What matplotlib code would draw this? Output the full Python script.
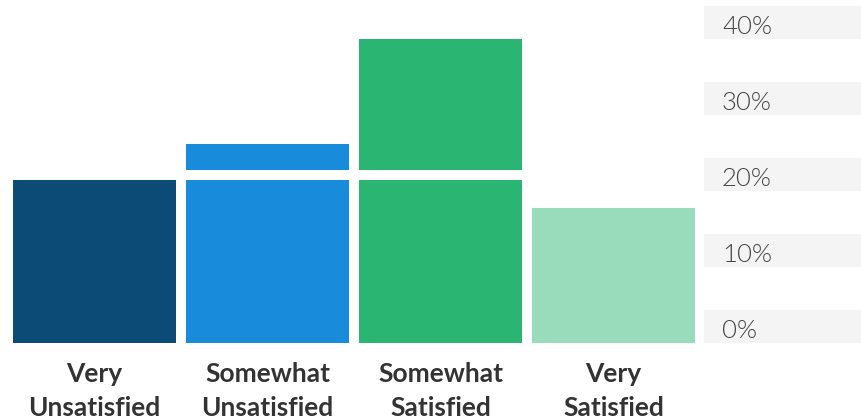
import matplotlib
matplotlib.use("Agg")
import matplotlib.pyplot as plt
from matplotlib.patches import Rectangle
from matplotlib.transforms import blended_transform_factory

# Survey results (% of respondents)
categories = ["Very\nUnsatisfied", "Somewhat\nUnsatisfied", "Somewhat\nSatisfied", "Very\nSatisfied"]
values = [21.45, 26.2, 40.0, 17.75]
colors = ["#0b4b75", "#188cdb", "#2bb572", "#98dcbc"]
tick_values = [0, 10, 20, 30, 40]
tick_labels = ["0%", "10%", "20%", "30%", "40%"]

W, H = 862, 420
PX_PER_PCT = 7.6          # vertical scale
BASE_PX = 343             # baseline row (from top)
PLOT_W = 704              # width of bar area in px
PITCH = 173               # px between bar centres
BAR_W = 163               # bar width in px
FIRST_CENTER = 94.5

fig = plt.figure(figsize=(W / 100, H / 100), dpi=100)
fig.patch.set_facecolor("white")

ymax = BASE_PX / PX_PER_PCT
ax = fig.add_axes([0, (H - BASE_PX) / H, PLOT_W / W, BASE_PX / H])
ax.set_xlim(-FIRST_CENTER / PITCH, (PLOT_W - FIRST_CENTER) / PITCH)
ax.set_ylim(0, ymax)
ax.axis("off")

x = list(range(len(values)))
ax.bar(x, values, width=BAR_W / PITCH, color=colors, linewidth=0)

# white break line at the level of the first category
gap = 10 / PX_PER_PCT
ax.axhspan(values[0], values[0] + gap, color="white", linewidth=0, zorder=3)

# category labels under each bar
trans = blended_transform_factory(ax.transData, fig.transFigure)
for xi, cat in zip(x, categories):
    for k, line in enumerate(cat.split("\n")):
        base_px = 382.5 + 33.5 * k
        ax.text(xi, (H - base_px) / H, line, transform=trans, ha="center",
                va="baseline", fontsize=19, fontfamily="Lato", fontweight="bold",
                color="#333333", clip_on=False)

# right-hand value scale with shaded label boxes
ax2 = fig.add_axes([PLOT_W / W, (H - BASE_PX) / H, (W - PLOT_W) / W, BASE_PX / H])
ax2.set_xlim(0, W - PLOT_W)
ax2.set_ylim(0, ymax)
ax2.axis("off")
box_h = 33.3 / PX_PER_PCT
for v, lab in zip(tick_values, tick_labels):
    ax2.add_patch(Rectangle((0, v), W - PLOT_W, box_h, facecolor="#f4f4f4",
                            edgecolor="none", clip_on=False))
    ax2.text(18, v + 5.3 / PX_PER_PCT, lab, ha="left", va="baseline",
             fontsize=18.5, fontfamily="Lato", fontweight=300, color="#444444",
             clip_on=False)

fig.savefig("out.png", dpi=100, facecolor="white")
